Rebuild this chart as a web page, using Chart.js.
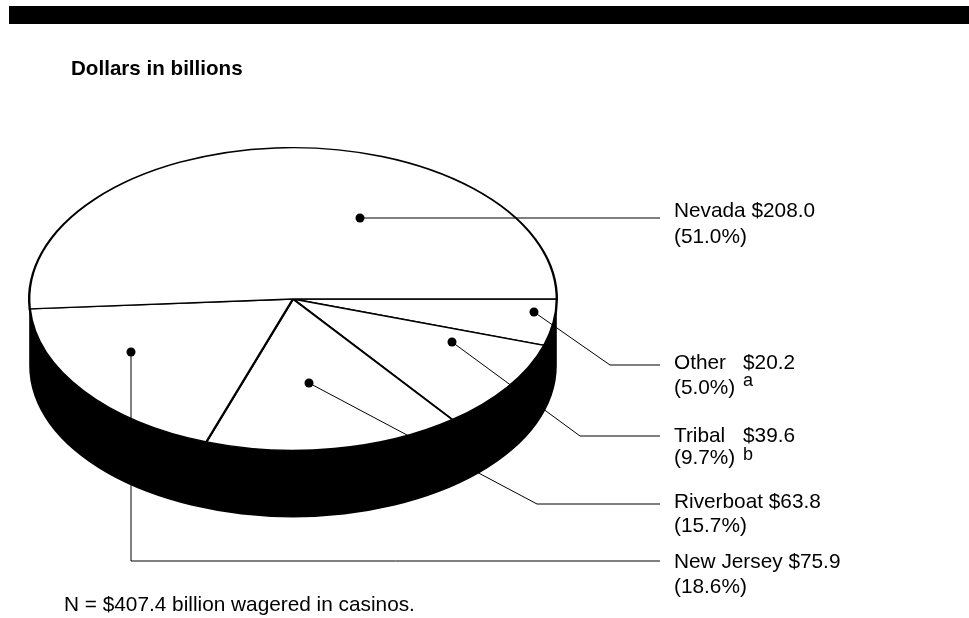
<!DOCTYPE html>
<html>
<head>
<meta charset="utf-8">
<title>Dollars in billions</title>
<script src="https://cdn.jsdelivr.net/npm/chart.js@4"></script>
<style>
  html, body { margin: 0; padding: 0; background: #fff; }
  canvas { display: block; }
</style>
</head>
<body>
<canvas id="wagerChart" width="969" height="618"></canvas>
<script>
// clockwise from 3 o'clock
const categories = ['Other', 'Tribal', 'Riverboat', 'New Jersey', 'Nevada'];
const billions = [20.2, 39.6, 63.8, 75.9, 208.0];
const percents = ['5.0', '9.7', '15.7', '18.6', '51.0'];
const notes = ['a', 'b', '', '', ''];

const titleText = 'Dollars in billions';
const footText = 'N = $407.4 billion wagered in casinos.';

// annotation layout, one entry per category
const leaders = [
  [[534, 312], [610, 365], [660, 365]],
  [[452, 342], [580, 436], [660, 436]],
  [[309, 383], [537, 504], [660, 504]],
  [[131, 352], [131, 561], [660, 561]],
  [[360, 218], [660, 218]]
];
const labelY = [369, 442, 508, 568, 217];
const percentY = [394, 464, 532, 593, 243];
const noteY = [386, 460];
const amountX = [743, 743, null, null, null];

const squash = 151.5 / 264;
const depth = 67;
const labelFont = '20.8px "Liberation Sans", Arial, sans-serif';
const noteFont = '18px "Liberation Sans", Arial, sans-serif';

const pieTilt = {
  id: 'pieTilt',
  beforeDatasetsDraw(chart) {
    const ctx = chart.ctx;
    const arc = chart.getDatasetMeta(0).data[0];
    const { x, y, outerRadius: r } = arc;
    ctx.save();
    ctx.fillStyle = '#000';
    ctx.beginPath();
    ctx.moveTo(x + r, y);
    ctx.lineTo(x + r, y + depth);
    ctx.ellipse(x, y + depth, r, r * squash, 0, 0, Math.PI);
    ctx.lineTo(x - r, y);
    ctx.closePath();
    ctx.fill();
    ctx.restore();
  },
  beforeDatasetDraw(chart) {
    const ctx = chart.ctx;
    const arc = chart.getDatasetMeta(0).data[0];
    ctx.save();
    ctx.translate(arc.x, arc.y);
    ctx.scale(1, squash);
    ctx.translate(-arc.x, -arc.y);
  },
  afterDatasetDraw(chart) {
    chart.ctx.restore();
  }
};

const annotations = {
  id: 'annotations',
  afterDatasetsDraw(chart) {
    const ctx = chart.ctx;
    ctx.save();

    ctx.fillStyle = '#000';
    ctx.fillRect(9, 6, 960, 18);

    ctx.strokeStyle = '#000';
    ctx.lineWidth = 1;
    leaders.forEach(path => {
      ctx.beginPath();
      path.forEach(([px, py], i) => i ? ctx.lineTo(px, py) : ctx.moveTo(px, py));
      ctx.stroke();
      ctx.beginPath();
      ctx.arc(path[0][0], path[0][1], 4.5, 0, Math.PI * 2);
      ctx.fill();
    });

    ctx.textBaseline = 'alphabetic';
    ctx.font = 'bold 20.6px "Liberation Sans", Arial, sans-serif';
    ctx.fillText(titleText, 71, 75);

    ctx.font = labelFont;
    ctx.fillText(footText, 64, 611);
    categories.forEach((name, i) => {
      const amount = '$' + billions[i].toFixed(1);
      if (amountX[i]) {
        ctx.fillText(name, 674, labelY[i]);
        ctx.fillText(amount, amountX[i], labelY[i]);
      } else {
        ctx.fillText(name + ' ' + amount, 674, labelY[i]);
      }
      ctx.fillText('(' + percents[i] + '%)', 674, percentY[i]);
      if (notes[i]) {
        ctx.font = noteFont;
        ctx.fillText(notes[i], 743, noteY[i]);
        ctx.font = labelFont;
      }
    });
    ctx.restore();
  }
};

new Chart(document.getElementById('wagerChart'), {
  type: 'pie',
  data: {
    labels: categories,
    datasets: [{
      data: billions,
      backgroundColor: '#fff',
      borderColor: '#000',
      borderWidth: 2.4,
      borderJoinStyle: 'round',
      clip: false
    }]
  },
  options: {
    responsive: false,
    animation: false,
    rotation: 90,
    layout: { padding: { left: 28, right: 411, top: 34, bottom: 54 } },
    plugins: {
      legend: { display: false },
      tooltip: { enabled: false }
    }
  },
  plugins: [pieTilt, annotations]
});
</script>
</body>
</html>
